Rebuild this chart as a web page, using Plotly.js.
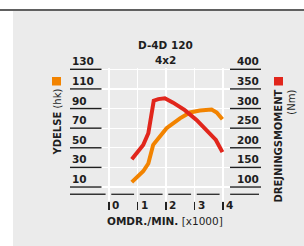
<!DOCTYPE html>
<html><head><meta charset="utf-8">
<script src="https://cdn.plot.ly/plotly-3.0.1.min.js"></script>
<style>html,body{margin:0;padding:0;background:#fff;}#chart{width:304px;height:246px;}</style>
</head><body><div id="chart"></div>
<script>
// ---- data ----
const rpmTorque = [0.8, 1.2, 1.38, 1.57, 1.73, 1.96, 2.25, 2.66, 3.07, 3.54, 3.75, 3.98];
const torqueNm  = [171, 207, 237, 320, 324, 326, 315, 296, 271, 237, 220, 189];
const rpmPower  = [0.8, 1.2, 1.38, 1.55, 2.02, 2.49, 2.84, 3.19, 3.6, 3.78, 3.98];
const powerHk   = [15, 26, 34, 53, 70, 80, 86, 88, 89, 86, 79];
const xTicks  = [0, 1, 2, 3, 4];
const hkTicks = [10, 30, 50, 70, 90, 110, 130];
const nmTicks = [100, 150, 200, 250, 300, 350, 400];
const titleLines = ['D-4D 120', '4x2'];
const xTitleBold = 'OMDR./MIN.', xTitleRest = '[x1000]';
const yTitleBold = 'YDELSE', yTitleRest = '(hk)';
const y2TitleBold = 'DREJNINGSMOMENT', y2TitleRest = '(Nm)';

const ORANGE = '#f28300', RED = '#e1261c', INK = '#1e1e1e', PANEL = '#ebebeb';
const FONT = 'DejaVu Sans';

// ---- geometry (pixels) ----
const W = 304, H = 246, L = 70, R = 261, T = 68, B = 201;
const xZeroPx = 109, pxPerK = 28.5;
const hkTopPx = 69.3, pxPerHk = 0.981;
const px2x = p => (p - L) / (R - L);
const px2y = p => (B - p) / (B - T);
const xRange = [(L - xZeroPx) / pxPerK, (R - xZeroPx) / pxPerK];
const hkTop = hkTicks[hkTicks.length - 1], hkBot = hkTicks[0];
const yRange = [hkTop - (B - hkTopPx) / pxPerHk, hkTop + (hkTopPx - T) / pxPerHk];
const nmTop = nmTicks[nmTicks.length - 1], nmBot = nmTicks[0];
const hk2nm = v => nmBot + (v - hkBot) * (nmTop - nmBot) / (hkTop - hkBot);
const y2Range = yRange.map(hk2nm);

const traces = [
  {x: rpmTorque, y: torqueNm, yaxis: 'y2', type: 'scatter', mode: 'lines',
   line: {color: RED, width: 4, shape: 'linear'}, hoverinfo: 'skip'},
  {x: rpmPower, y: powerHk, type: 'scatter', mode: 'lines',
   line: {color: ORANGE, width: 4, shape: 'linear'}, hoverinfo: 'skip'}
];

const shapes = [
  {type: 'rect', xref: 'paper', yref: 'paper', x0: px2x(13), x1: px2x(W), y0: px2y(H), y1: px2y(11),
   fillcolor: PANEL, line: {width: 0}, layer: 'below'},
  {type: 'line', xref: 'paper', yref: 'paper', x0: px2x(0), x1: px2x(W), y0: px2y(10), y1: px2y(10),
   line: {color: '#2b2b2b', width: 1.5}},
  {type: 'rect', xref: 'paper', yref: 'paper', x0: px2x(52), x1: px2x(61), y0: px2y(85.5), y1: px2y(77),
   fillcolor: ORANGE, line: {width: 0}},
  {type: 'rect', xref: 'paper', yref: 'paper', x0: px2x(274), x1: px2x(283), y0: px2y(85.5), y1: px2y(77),
   fillcolor: RED, line: {width: 0}}
];
hkTicks.forEach(v => shapes.push({type: 'line', xref: 'paper', yref: 'y', x0: 0, x1: px2x(101.5), y0: v, y1: v,
  line: {color: INK, width: 1.4}}));
nmTicks.forEach(v => shapes.push({type: 'line', xref: 'paper', yref: 'y2', x0: px2x(230), x1: 1, y0: v, y1: v,
  line: {color: INK, width: 1.4}}));
// bottom axis line, broken at each tick
const axY = px2y(194.3);
const segs = [[xRange[0], xTicks[0] - 0.12]];
for (let i = 0; i < xTicks.length - 1; i++) segs.push([xTicks[i] + 0.08, xTicks[i + 1] - 0.12]);
segs.push([xTicks[xTicks.length - 1] + 0.25, xRange[1] - 0.07]);
segs.forEach(s => shapes.push({type: 'line', xref: 'x', yref: 'paper', x0: s[0], x1: s[1], y0: axY, y1: axY,
  line: {color: '#333', width: 1.4}}));

const tickFont = {family: FONT, size: 10.5, color: INK, weight: 'bold'};
const annotations = [];
hkTicks.forEach(v => annotations.push({text: '<b>' + v + '</b>', xref: 'paper', x: 0, xanchor: 'left',
  yref: 'y', y: v, yanchor: 'bottom', yshift: 0, showarrow: false, font: {family: FONT, size: 10.5, color: INK}}));
nmTicks.forEach(v => annotations.push({text: '<b>' + v + '</b>', xref: 'paper', x: 1, xanchor: 'right',
  yref: 'y2', y: v, yanchor: 'bottom', yshift: 0, showarrow: false, font: {family: FONT, size: 10.5, color: INK}}));
xTicks.forEach(v => annotations.push({text: '<b>' + v + '</b>', xref: 'x', x: v, xanchor: 'left', xshift: 1,
  yref: 'paper', y: px2y(205), yanchor: 'middle', showarrow: false, font: {family: FONT, size: 10.5, color: INK}}));
annotations.push({text: '<b>' + yTitleBold + '</b> ' + yTitleRest, textangle: -90, xref: 'paper', yref: 'paper',
  x: px2x(57), y: px2y(122.5), xanchor: 'center', yanchor: 'middle', showarrow: false,
  font: {family: FONT, size: 10, color: INK}});
annotations.push({text: '<b>' + y2TitleBold + '</b><br>' + y2TitleRest, textangle: -90, align: 'right',
  xref: 'paper', yref: 'paper', x: px2x(284.5), y: px2y(146), xanchor: 'center', yanchor: 'middle', showarrow: false,
  font: {family: FONT, size: 10, color: INK}});
annotations.push({text: '<b>' + titleLines[0] + '</b>', xref: 'paper', yref: 'paper', x: px2x(165), y: px2y(45),
  xanchor: 'center', yanchor: 'middle', showarrow: false, font: {family: FONT, size: 10.5, color: INK}});
annotations.push({text: '<b>' + titleLines[1] + '</b>', xref: 'paper', yref: 'paper', x: px2x(165), y: px2y(60),
  xanchor: 'center', yanchor: 'middle', showarrow: false, font: {family: FONT, size: 10.5, color: INK}});
annotations.push({text: '<b>' + xTitleBold + '</b> ' + xTitleRest, xref: 'paper', yref: 'paper', x: px2x(165), y: px2y(221),
  xanchor: 'center', yanchor: 'middle', showarrow: false, font: {family: FONT, size: 10.5, color: INK}});

const layout = {
  width: W, height: H, margin: {l: L, r: W - R, t: T, b: H - B, pad: 0},
  paper_bgcolor: '#ffffff', plot_bgcolor: 'rgba(0,0,0,0)', showlegend: false,
  font: {family: FONT, color: INK},
  xaxis: {range: xRange, tickvals: xTicks, showticklabels: false, ticks: 'outside', ticklen: 8, tickwidth: 1.2,
          tickcolor: '#222', showgrid: true, gridcolor: '#ffffff', gridwidth: 1.3, zeroline: false, showline: false, fixedrange: true},
  yaxis: {range: yRange, tickvals: hkTicks, showticklabels: false, ticks: '', showgrid: true, gridcolor: '#ffffff',
          gridwidth: 1.3, zeroline: false, showline: false, fixedrange: true},
  yaxis2: {range: y2Range, overlaying: 'y', side: 'right', tickvals: nmTicks, showticklabels: false, ticks: '',
           showgrid: false, zeroline: false, showline: false, fixedrange: true},
  shapes: shapes, annotations: annotations
};
Plotly.newPlot('chart', traces, layout, {displayModeBar: false, staticPlot: true});
</script></body></html>
